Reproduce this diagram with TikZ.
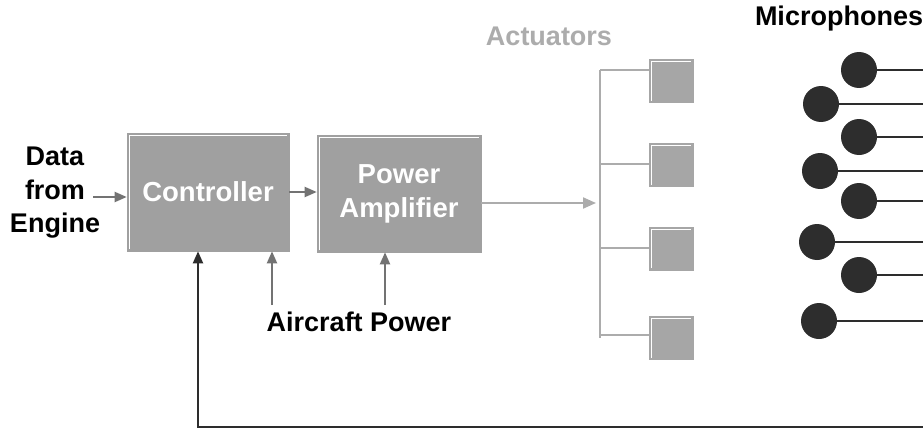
\documentclass[tikz,border=0pt]{standalone}
\usepackage{fontspec}
\setmainfont{Liberation Sans}
\usetikzlibrary{arrows.meta}
\definecolor{boxgray}{RGB}{160,160,160}
\definecolor{actgray}{RGB}{166,166,166}
\definecolor{arrgray}{RGB}{115,115,115}
\definecolor{linegray}{RGB}{172,172,172}
\definecolor{darkline}{RGB}{45,45,45}
\begin{document}
\begin{tikzpicture}[x=1pt,y=-1pt,
  lbl/.style={font=\fontsize{27}{33.5}\selectfont\bfseries, align=center, inner sep=0pt},
  hilite/.style={path picture={\draw[white,line width=1pt]
      ([xshift=2pt,yshift=2pt]path picture bounding box.south west) |-
      ([xshift=-2pt,yshift=-2pt]path picture bounding box.north east);}},
  blockbox/.style={fill=boxgray, draw=boxgray, line width=0.6pt, hilite, text=white,
      font=\fontsize{27.5}{34}\selectfont\bfseries, align=center, inner sep=0pt},
  actbox/.style={fill=actgray, draw=actgray, line width=0.6pt, hilite,
      minimum width=44pt, minimum height=43pt, inner sep=0pt},
  arr/.style={draw=arrgray, line width=2pt, -{Triangle[length=12pt,width=10pt]}},
  arrlight/.style={draw=linegray, line width=2pt, -{Triangle[length=13pt,width=11pt]}},
  bus/.style={draw=linegray, line width=2pt},
  mic/.style={circle, fill=darkline, minimum size=36pt, inner sep=0pt},
  micline/.style={draw=darkline, line width=2pt},
  fbarr/.style={draw=darkline, line width=2pt, -{Triangle[length=12pt,width=10pt]}}
]
\useasboundingbox (0,0) rectangle (923,428);

% blocks
\node[blockbox, minimum width=162pt, minimum height=118pt] (ctrl) at (208,192) {Controller};
\node[blockbox, minimum width=164pt, minimum height=117pt] (amp) at (399,193.5) {Power\\Amplifier};

% labels
\node[lbl] (data) at (55,193) {Data\\from\\Engine};
\node[lbl, anchor=base] (acpow) at (359,331) {Aircraft Power};
\node[lbl, anchor=base, text=linegray] (actl) at (549,46) {Actuators};
\node[lbl, anchor=base] (micl) at (839,26) {Microphones};

% arrows into controller / amplifier
\coordinate (din) at (93,197);
\draw[arr] (din) -- (din -| ctrl.west);
\draw[arr] (ctrl.east |- 0,192) -- (amp.west |- 0,192);
\coordinate (pw1) at (272,305);
\coordinate (pw2) at (385,305);
\draw[arr] (pw1) -- (pw1 |- ctrl.south);
\draw[arr] (pw2) -- (pw2 |- amp.south);

% actuators
\node[actbox] (a1) at (671,81) {};
\node[actbox] (a2) at (671,165) {};
\node[actbox] (a3) at (671,248.5) {};
\node[actbox] (a4) at (671,338) {};
\coordinate (bustop) at (600,70);
\coordinate (busbot) at (600,338);
\draw[bus] (bustop) -- (busbot);
\draw[bus] (bustop) -- (a1.west |- bustop);
\draw[bus] (600,164) -- (a2.west |- 0,164);
\draw[bus] (600,248) -- (a3.west |- 0,248);
\draw[bus] (600,335) -- (a4.west |- 0,335);
\draw[arrlight] (amp.east |- 0,203) -- (596,203);

% microphones
\coordinate (redge) at (923,0);
\foreach \n/\x/\y in {1/859/70, 2/821/104, 3/859/137, 4/820/171, 5/859/201, 6/817/242, 7/859/275, 8/819/321}{
  \node[mic] (m\n) at (\x,\y) {};
  \draw[micline] (m\n.east) -- (m\n.east -| redge);
}

% feedback
\coordinate (fb) at (923,427);
\coordinate (fbx) at (198,0);
\draw[fbarr] (fb) -- (fb -| fbx) -- (fbx |- ctrl.south);
\end{tikzpicture}
\end{document}
